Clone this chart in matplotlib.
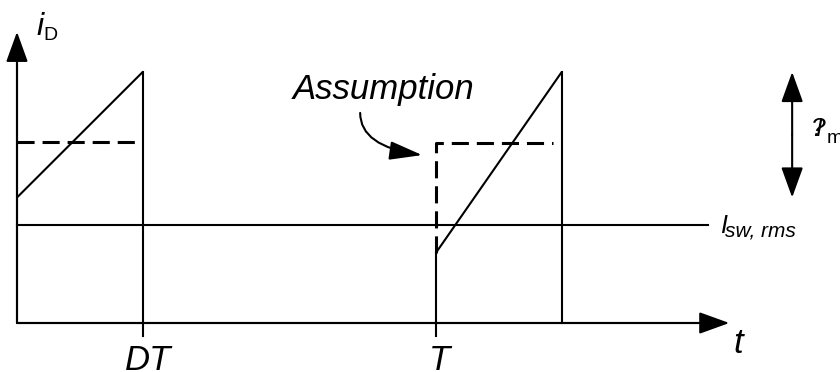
"""
Diode current i_D over one switching period, with the flat-top
approximation used for the rms switch current.
"""

import matplotlib
matplotlib.use('Agg')
import matplotlib.pyplot as plt


# Time in units of the period T, current in units of the peak value.
T = 1.0
D = 0.30

ramp_t = [[0.0, D], [T, T + D]]
ramp_i = [[0.50, 1.0], [0.28, 1.0]]

# Flat-top (assumed) current levels.
flat_t = [[0.0, 0.286], [T, T, 1.279]]
flat_i = [[0.72, 0.72], [0.28, 0.717, 0.717]]

i_rms = 0.39
i_rms_end = 1.65
ripple = (0.50, 1.0)
ripple_t = 1.85

t_axis_end = 1.70
i_axis_end = 1.16
tick_low = -0.052

FONT = 'Liberation Sans'
LW = 1.5


def arrow(ax, start, end, style='-|>', **kw):
    ax.annotate('', xy=end, xytext=start,
                arrowprops=dict(arrowstyle=style, color='black', lw=LW,
                                mutation_scale=14.4, shrinkA=0, shrinkB=0,
                                **kw))


def main():

    fig = plt.figure(figsize=(8.4, 3.72), dpi=100)
    ax = fig.add_axes([0, 0, 1, 1])
    ax.set_xlim(-17 / 419, 823 / 419)
    ax.set_ylim(-49 / 251, 323 / 251)
    ax.axis('off')

    head = '-|>,head_length=1.3,head_width=0.47'

    # Axes
    ax.plot([0, 0, t_axis_end - 0.05], [i_axis_end - 0.08, 0, 0],
            color='black', lw=LW, solid_capstyle='butt')
    arrow(ax, (0, 0), (0, i_axis_end), style=head)
    arrow(ax, (0, 0), (t_axis_end, 0), style=head)

    # Current ramps and switching edges
    for ts, vs in zip(ramp_t, ramp_i):
        ax.plot(ts, vs, color='black', lw=LW, solid_capstyle='butt')
    ax.plot([D, D], [1.0, tick_low], color='black', lw=LW)
    ax.plot([T, T], [ramp_i[1][0], tick_low], color='black', lw=LW)
    ax.plot([T + D, T + D], [1.0, 0], color='black', lw=LW)

    # Assumed flat current
    for ts, vs in zip(flat_t, flat_i):
        ax.plot(ts, vs, color='black', lw=2.2, linestyle=(0, (5.6, 2.6)),
                dash_capstyle='butt')

    # rms level
    ax.plot([0, i_rms_end], [i_rms, i_rms], color='black', lw=LW)

    # Ripple arrow
    arrow(ax, (ripple_t, sum(ripple) / 2), (ripple_t, ripple[1]), style=head)
    arrow(ax, (ripple_t, sum(ripple) / 2), (ripple_t, ripple[0]), style=head)

    # Pointer to the assumption
    ax.annotate('', xy=(0.967, 0.669), xytext=(0.819, 0.837),
                arrowprops=dict(arrowstyle='-|>,head_length=1.4,head_width=0.4',
                                color='black', lw=LW, mutation_scale=14.4,
                                shrinkA=0, shrinkB=0,
                                connectionstyle='angle3,angleA=-90,angleB=-8'))

    it = dict(family=FONT, style='italic', color='black', va='baseline')
    up = dict(family=FONT, color='black', va='baseline')

    ax.text(0.046, 1.147, 'i', fontsize=23, **it)
    ax.text(0.062, 1.127, 'D', fontsize=14, **up)
    ax.text(0.659, 0.892, 'Assumption', fontsize=25, **it)
    ax.text(D + 0.012, -0.186, 'DT', fontsize=25, ha='center', **it)
    ax.text(T + 0.008, -0.186, 'T', fontsize=25, ha='center', **it)
    ax.text(1.709, -0.12, 't', fontsize=25, **it)
    ax.text(1.678, 0.359, 'I', fontsize=18, **it)
    ax.text(1.690, 0.343, 'sw, rms', fontsize=15, **it)
    ax.text(1.895, 0.745, '?', fontsize=19, **it)
    ax.text(1.905, 0.745, 'I', fontsize=17, **it)
    ax.text(1.932, 0.717, 'm', fontsize=14, **up)

    fig.savefig('out.png', dpi=100)


if __name__ == '__main__':
    main()
